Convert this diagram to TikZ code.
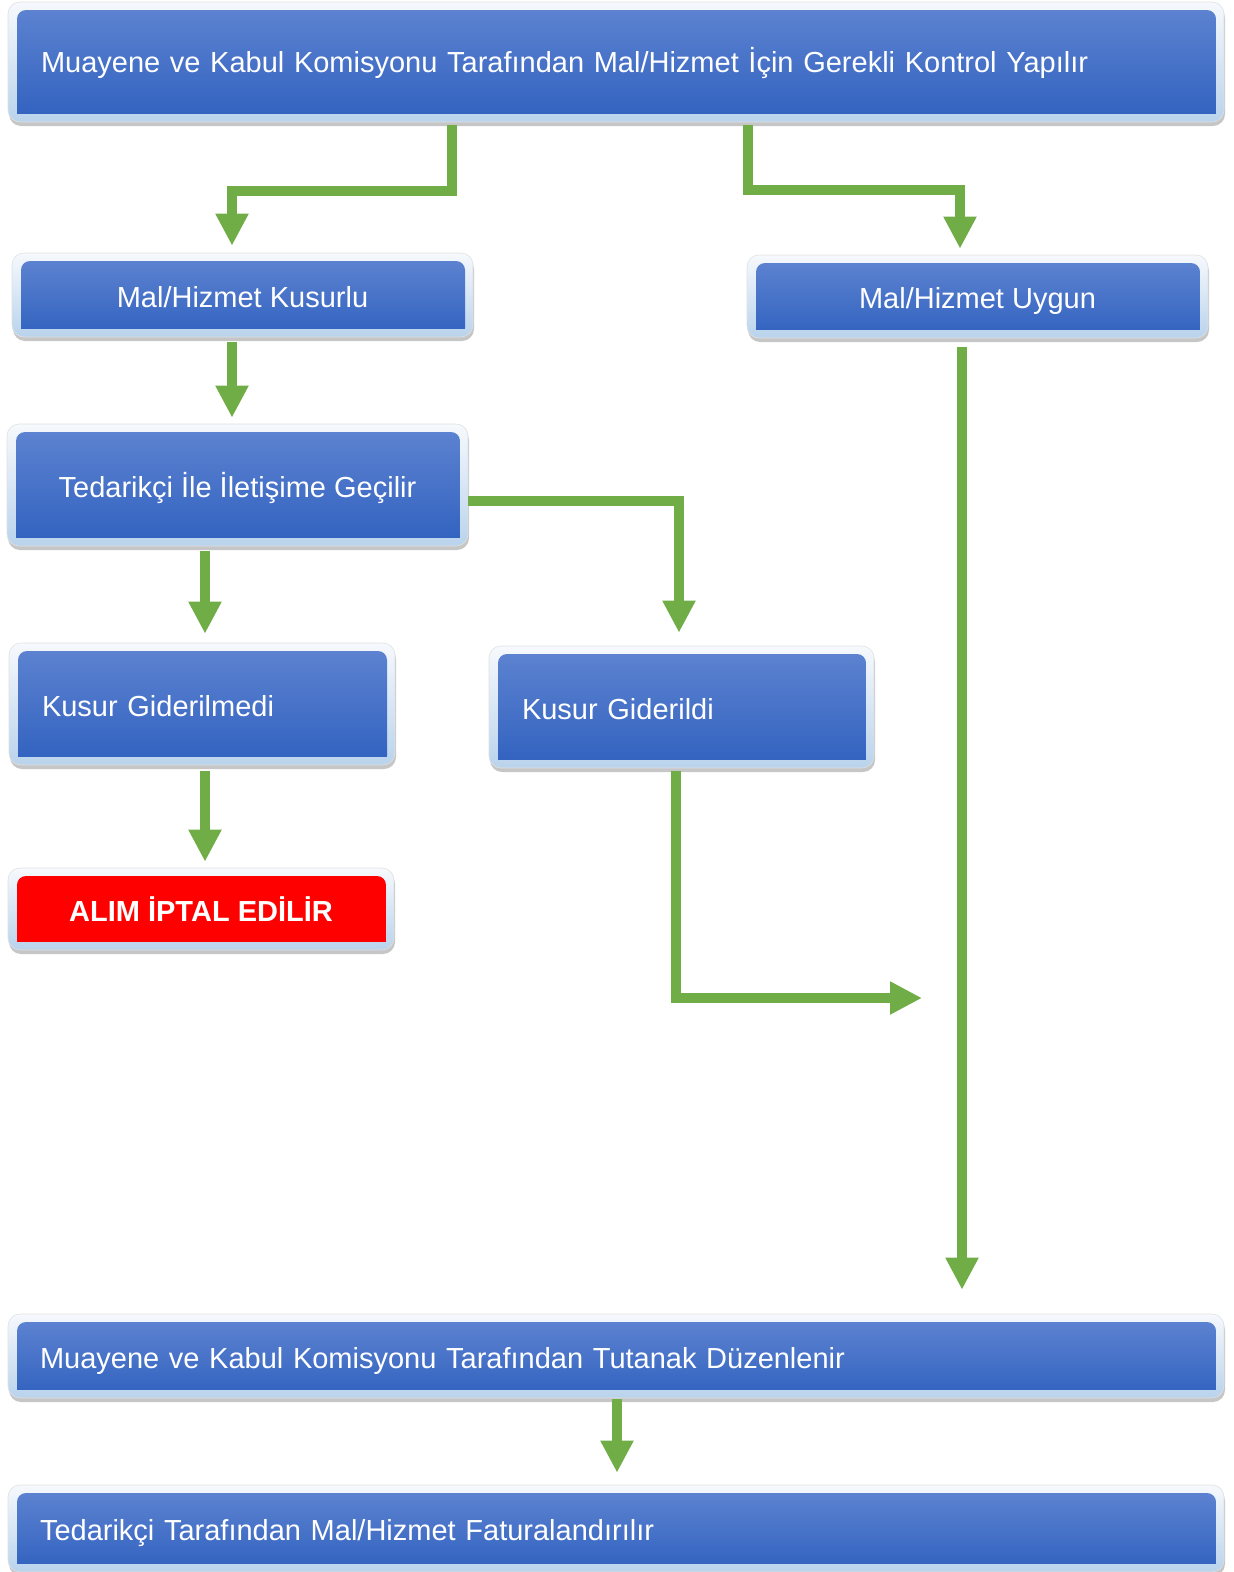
\documentclass[tikz,border=0pt]{standalone}
\usepackage{fontspec}
\setmainfont{Liberation Sans}
\usetikzlibrary{arrows.meta,calc,shadows}
\definecolor{bluetop}{RGB}{92,130,208}
\definecolor{bluebot}{RGB}{48,97,191}
\definecolor{frametop}{RGB}{246,249,253}
\definecolor{framebot}{RGB}{185,211,236}
\definecolor{arrowgreen}{RGB}{112,173,71}
\definecolor{alarmred}{RGB}{255,0,0}
\tikzset{
  flowbox/.style 2 args={rectangle, rounded corners=12pt, inner sep=0pt,
    top color=frametop, bottom color=framebot, draw=black!12, line width=0.6pt,
    drop shadow={shadow xshift=1pt, shadow yshift=-4pt, opacity=0.45},
    text=white, font=\fontsize{29}{34}\selectfont, text height=26pt, text depth=2pt,
    path picture={
      \begin{scope}[sharp corners]
      \clip let \p1=(path picture bounding box.south west), \p2=(path picture bounding box.north east)
        in (\x1+9pt,\y1+9pt) rectangle (\x2-8pt,\y2-8pt);
      \shade[top color=#1, bottom color=#2, rounded corners=9pt]
        let \p1=(path picture bounding box.south west), \p2=(path picture bounding box.north east)
        in (\x1+9pt,\y1) rectangle (\x2-8pt,\y2-8pt);
      \end{scope}
    }},
  bluebox/.style={flowbox={bluetop}{bluebot}},
  redbox/.style={flowbox={alarmred}{alarmred}},
  flow/.style={draw=arrowgreen, line width=10pt, -{Triangle[length=32pt,width=31pt]}}
}
\begin{document}
\begin{tikzpicture}[x=1pt,y=-1pt]
\useasboundingbox (0,0) rectangle (1234,1572);

\node[bluebox, minimum width=1216pt, minimum height=120pt, text width=1150pt, align=left, text height=23pt] (n1) at (616,62)
  {Muayene ve Kabul Komisyonu Tarafından Mal/Hizmet İçin Gerekli Kontrol Yapılır};
\node[bluebox, minimum width=461pt, minimum height=84pt] (n2) at (242.5,295) {Mal/Hizmet Kusurlu};
\node[bluebox, minimum width=461pt, minimum height=83pt] (n3) at (977.5,296.5) {Mal/Hizmet Uygun};
\node[bluebox, minimum width=461pt, minimum height=122pt] (n4) at (237.5,485) {Tedarikçi İle İletişime Geçilir};
\node[bluebox, minimum width=386pt, minimum height=122pt, text width=320pt, align=left] (n5) at (202,704) {Kusur Giderilmedi};
\node[bluebox, minimum width=385pt, minimum height=122pt, text width=319pt, align=left] (n6) at (681.5,707) {Kusur Giderildi};
\node[redbox, minimum width=386pt, minimum height=82pt, font=\fontsize{29}{34}\selectfont\bfseries] (n7) at (201,909) {ALIM İPTAL EDİLİR};
\node[bluebox, minimum width=1216pt, minimum height=84pt, text width=1152pt, align=left] (n8) at (616,1356)
  {Muayene ve Kabul Komisyonu Tarafından Tutanak Düzenlenir};
\node[bluebox, minimum width=1216pt, minimum height=87pt, text width=1152pt, align=left] (n9) at (616,1528.5)
  {Tedarikçi Tarafından Mal/Hizmet Faturalandırılır};

\coordinate (hend) at (922,998);

\draw[flow] ([xshift=-164pt,yshift=-3pt]n1.south) -- ++(0,66) -| ([xshift=-10.5pt,yshift=7pt]n2.north);
\draw[flow] ([xshift=132pt,yshift=-3pt]n1.south) -- ++(0,65) -| ([xshift=-17.5pt,yshift=6pt]n3.north);
\draw[flow] ([xshift=-10.5pt,yshift=-5pt]n2.south) -- ([xshift=-5.5pt,yshift=6pt]n4.north);
\draw[flow] ([yshift=-16pt]n4.east) -| ([xshift=-2.5pt,yshift=13pt]n6.north);
\draw[flow] ([xshift=-32.5pt,yshift=-5pt]n4.south) -- ([xshift=3pt,yshift=9pt]n5.north);
\draw[flow] ([xshift=-15.5pt,yshift=-9pt]n3.south) -- ([xshift=346pt,yshift=24pt]n8.north);
\draw[flow] ([xshift=3pt,yshift=-6pt]n5.south) -- ([xshift=4pt,yshift=6pt]n7.north);
\draw[flow] ([xshift=-5.5pt,yshift=-3pt]n6.south) |- (hend);
\draw[flow] ([xshift=1pt,yshift=-1pt]n8.south) -- ([xshift=1pt,yshift=12pt]n9.north);
\end{tikzpicture}
\end{document}
